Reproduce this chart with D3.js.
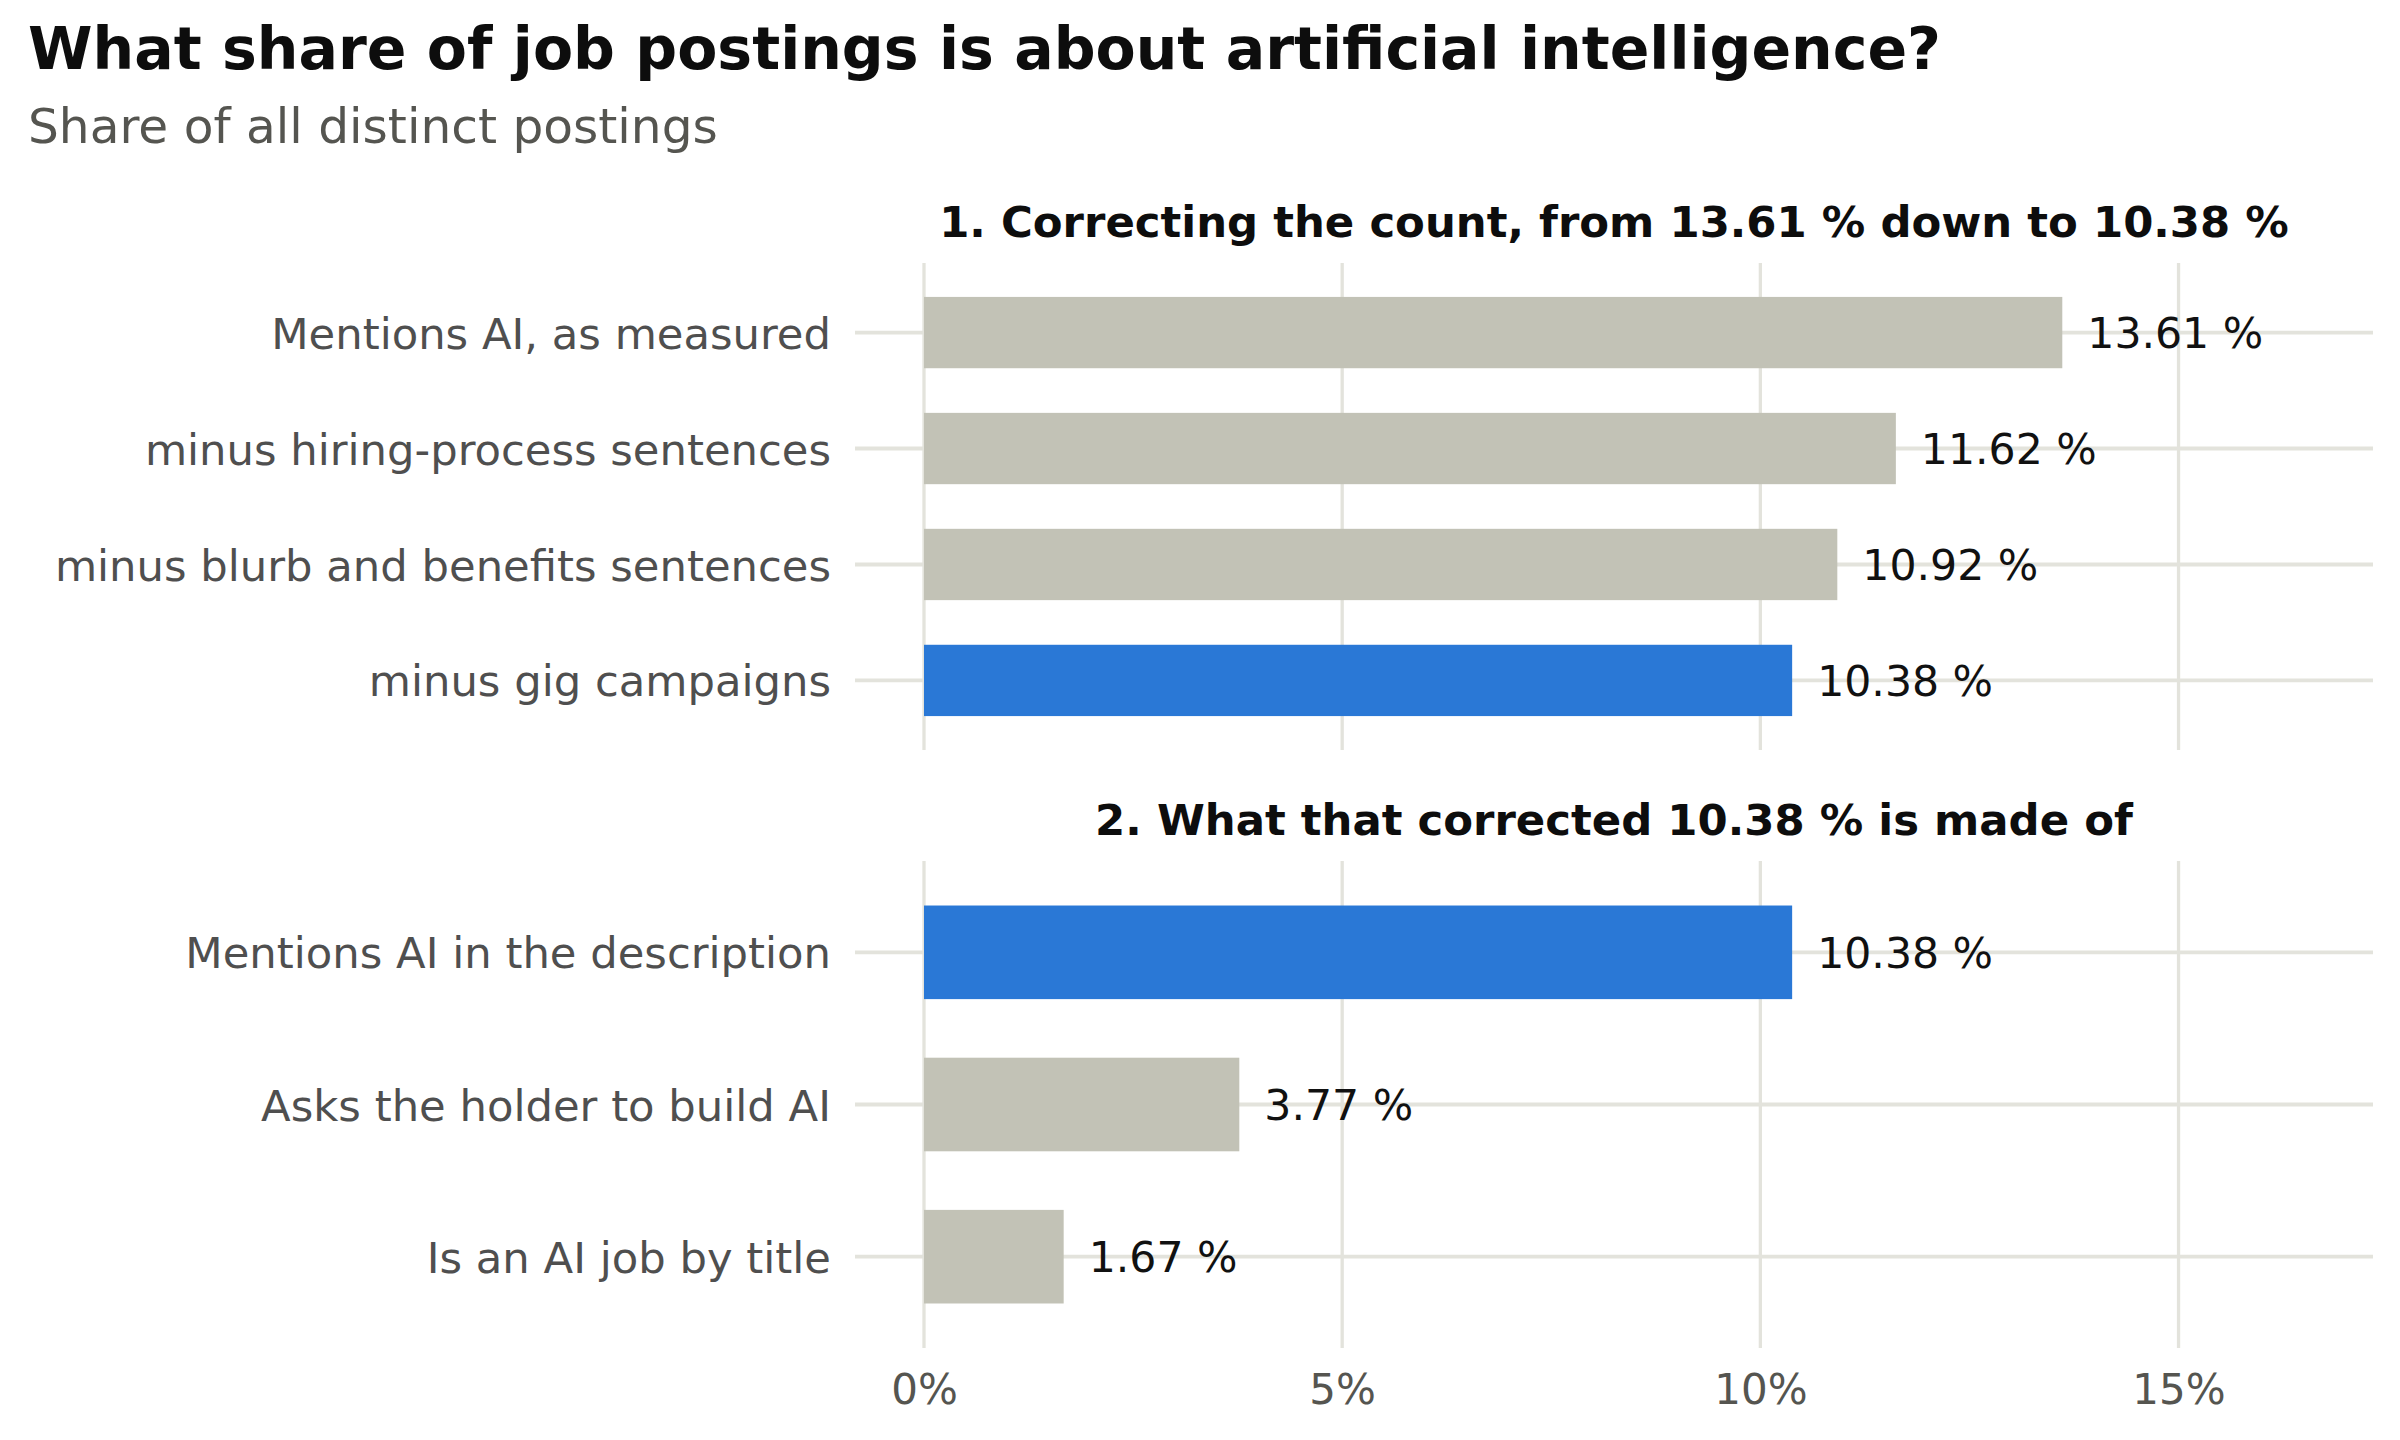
<!DOCTYPE html>
<html>
<head>
<meta charset="utf-8">
<script src="https://cdn.jsdelivr.net/npm/d3@7"></script>
<style>
  html, body { margin: 0; padding: 0; background: #ffffff; }
  svg { display: block; font-family: "DejaVu Sans", sans-serif; }
</style>
</head>
<body>
<svg id="chart" width="2400" height="1440"></svg>
<script>
// ---- data ----
const chartTitle = "What share of job postings is about artificial intelligence?";
const chartSubtitle = "Share of all distinct postings";

const panel1Title = "1. Correcting the count, from 13.61 % down to 10.38 %";
const panel1Categories = [
  "Mentions AI, as measured",
  "minus hiring-process sentences",
  "minus blurb and benefits sentences",
  "minus gig campaigns"
];
const panel1Values = [13.61, 11.62, 10.92, 10.38];
const panel1Highlight = [false, false, false, true];

const panel2Title = "2. What that corrected 10.38 % is made of";
const panel2Categories = [
  "Mentions AI in the description",
  "Asks the holder to build AI",
  "Is an AI job by title"
];
const panel2Values = [10.38, 3.77, 1.67];
const panel2Highlight = [true, false, false];

const xTicks = [0, 5, 10, 15];
const xDataMax = 16.5;

// ---- style ----
const COLOR_GREY = "#c2c2b6";
const COLOR_BLUE = "#2a78d6";
const COLOR_GRID = "#e3e3dc";

const svg = d3.select("#chart");
svg.append("rect").attr("width", 2400).attr("height", 1440).attr("fill", "#ffffff");

// title & subtitle
svg.append("text").attr("x", 28).attr("y", 69)
  .attr("font-size", 58.5).attr("font-weight", "bold").attr("fill", "#0d0d0d")
  .text(chartTitle);
svg.append("text").attr("x", 28).attr("y", 143)
  .attr("font-size", 48.6).attr("fill", "#555550")
  .text(chartSubtitle);

// shared x scale (ggplot-like 5% expansion)
const x = d3.scaleLinear()
  .domain([-0.05 * xDataMax, 1.05 * xDataMax])
  .range([855, 2373]);

function drawPanel(title, cats, vals, hl, top, bottom, showXAxis) {
  const g = svg.append("g");
  const y = d3.scaleBand()
    .domain(cats)
    .range([top, bottom])
    .paddingInner(0.385)
    .paddingOuter(0.2925);

  // vertical gridlines
  g.selectAll("line.vgrid").data(xTicks).join("line")
    .attr("class", "vgrid")
    .attr("x1", d => x(d)).attr("x2", d => x(d))
    .attr("y1", top).attr("y2", bottom)
    .attr("stroke", COLOR_GRID).attr("stroke-width", 3.3);

  // horizontal gridlines
  g.selectAll("line.hgrid").data(cats).join("line")
    .attr("class", "hgrid")
    .attr("x1", x.range()[0]).attr("x2", x.range()[1])
    .attr("y1", d => y(d) + y.bandwidth() / 2)
    .attr("y2", d => y(d) + y.bandwidth() / 2)
    .attr("stroke", COLOR_GRID).attr("stroke-width", 3.8);

  // bars
  g.selectAll("rect.bar").data(cats).join("rect")
    .attr("class", "bar")
    .attr("x", x(0))
    .attr("y", d => y(d))
    .attr("width", (d, i) => x(vals[i]) - x(0))
    .attr("height", y.bandwidth())
    .attr("fill", (d, i) => hl[i] ? COLOR_BLUE : COLOR_GREY);

  // value labels
  g.selectAll("text.val").data(cats).join("text")
    .attr("class", "val")
    .attr("x", (d, i) => x(vals[i]) + 25)
    .attr("y", d => y(d) + y.bandwidth() / 2)
    .attr("dy", "0.365em")
    .attr("font-size", 42.6).attr("fill", "#111111")
    .text((d, i) => d3.format(".2f")(vals[i]) + " %");

  // y axis labels
  const yAxis = d3.axisLeft(y).tickSize(0).tickPadding(24);
  const ya = g.append("g").attr("transform", `translate(${x.range()[0]},0)`).call(yAxis);
  ya.select(".domain").remove();
  ya.selectAll("text")
    .attr("font-size", 43.3).attr("font-family", "DejaVu Sans")
    .attr("fill", "#4f4f4f").attr("dy", "0.37em");

  // panel title
  g.append("text")
    .attr("x", (x.range()[0] + x.range()[1]) / 2)
    .attr("y", top - 26)
    .attr("text-anchor", "middle")
    .attr("font-size", 43.4).attr("font-weight", "bold").attr("fill", "#0d0d0d")
    .text(title);

  if (showXAxis) {
    const xAxis = d3.axisBottom(x).tickValues(xTicks).tickFormat(d => d + "%")
      .tickSize(0).tickPadding(26);
    const xa = g.append("g").attr("transform", `translate(0,${bottom})`).call(xAxis);
    xa.select(".domain").remove();
    xa.selectAll("text")
      .attr("font-size", 42).attr("font-family", "DejaVu Sans")
      .attr("fill", "#555550");
  }
}

drawPanel(panel1Title, panel1Categories, panel1Values, panel1Highlight, 263, 750, false);
drawPanel(panel2Title, panel2Categories, panel2Values, panel2Highlight, 861, 1348, true);
</script>
</body>
</html>
